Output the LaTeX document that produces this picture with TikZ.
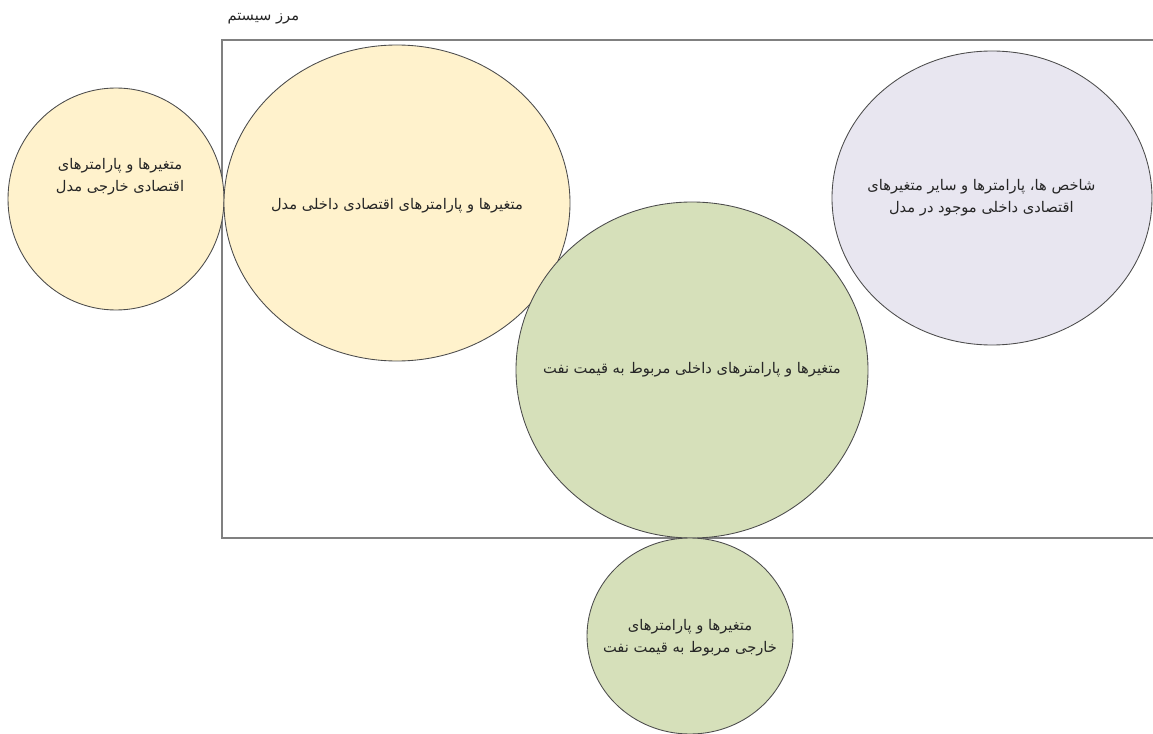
\documentclass[tikz,border=0pt]{standalone}
\usepackage{fontspec}
\usepackage{tikz}
\usetikzlibrary{shapes.geometric, positioning}
\TeXXeTstate=1
\newfontfamily\arabicfont[Script=Arabic]{DejaVu Sans}
\definecolor{cream}{HTML}{FFF2CC}
\definecolor{sage}{HTML}{D6E0BA}
\definecolor{lilac}{HTML}{E8E6F0}
\tikzset{every picture/.style={line width=0.75pt}}
\tikzset{bubble/.style={ellipse, draw=black!70, line width=0.65pt, inner sep=0pt},
  dims/.style 2 args={minimum width=#1*0.75pt, minimum height=#2*0.75pt},
  caption/.style={align=center, inner sep=0pt, text=black!85,
    font=\arabicfont\fontsize{11}{16.5}\selectfont}}

\begin{document}
\begin{tikzpicture}[x=0.75pt,y=-0.75pt]
  \useasboundingbox (0,0) rectangle (1153,734);
  \coordinate (nw) at (222,40);
  \coordinate (sw) at (222,538);
  \coordinate (ne) at (1160,40);
  \coordinate (se) at (1160,538);
  \draw [draw=black!50, line width=1.1pt] (ne) -- (nw) -- (sw) -- (se);
  \node [caption, anchor=south west] (boundary) at (227,25) {\beginR مرز سیستم\endR};

  \node [bubble, fill=cream, dims={216}{222}] (extmodel) at (116,199) {};
  \node [bubble, fill=cream, dims={346}{316}] (intmodel) at (397,203) {};
  \node [bubble, fill=lilac, dims={320}{294}] (indicators) at (992,198) {};
  \node [bubble, fill=sage, dims={352}{336}] (intoil) at (692,370) {};
  \node [bubble, fill=sage, dims={206}{196}] (extoil) at (690,636) {};

  \node [caption] (extmodeltext) at ([xshift=3pt, yshift=17pt]extmodel.center)
    {\beginR متغیرها و پارامترهای\endR\\\beginR اقتصادی خارجی مدل\endR};
  \node [caption] (intmodeltext) at ([yshift=-2pt]intmodel.center)
    {\beginR متغیرها و پارامترهای اقتصادی داخلی مدل\endR};
  \node [caption] (indicatorstext) at ([xshift=-8pt]indicators.center)
    {\beginR شاخص ها، پارامترها و سایر متغیرهای\endR\\\beginR اقتصادی داخلی موجود در مدل\endR};
  \node [caption] (intoiltext) at (intoil.center)
    {\beginR متغیرها و پارامترهای داخلی مربوط به قیمت نفت\endR};
  \node [caption] (extoiltext) at ([yshift=-1pt]extoil.center)
    {\beginR متغیرها و پارامترهای\endR\\\beginR خارجی مربوط به قیمت نفت\endR};
\end{tikzpicture}
\end{document}
